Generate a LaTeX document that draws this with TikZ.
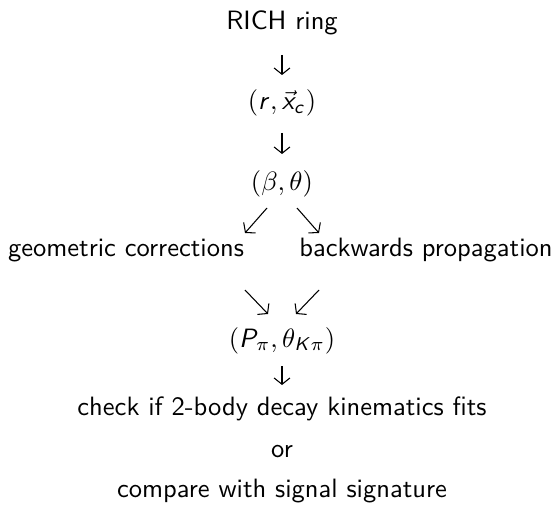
\documentclass[tikz,border=0pt]{standalone}
\usetikzlibrary{arrows.meta,calc}
\DeclareMathAlphabet{\mathsfit}{OT1}{cmss}{m}{sl}
\tikzset{
  lbl/.style={anchor=base, inner sep=0pt, font=\sffamily},
  flow/.style={-{Straight Barb[length=2.4pt, width=6pt]}, line width=0.4pt},
}
\begin{document}
\begin{tikzpicture}[x=0.377pt, y=-0.377pt]
  \useasboundingbox (0,0) rectangle (560,510);
  % quantities, top to bottom
  \node[lbl] (ring) at (282,30) {RICH ring};
  \node[lbl] (rx) at (282,110) {$(\mathsfit{r},\vec{\mathsfit{x}}_{\mathsfit{c}})$};
  \node[lbl] (bt) at (282,190) {$(\beta,\theta)$};
  \node[lbl] (geo) at (126,256) {geometric corrections};
  \node[lbl] (back) at (426,256) {backwards propagation};
  \node[lbl] (pk) at (282,347) {$(\mathsfit{P}_{\pi},\theta_{\mathsfit{K}\pi})$};
  \node[lbl] (check) at (282,415) {check if 2-body decay kinematics fits};
  \node[lbl] (or) at (282,457) {or};
  \node[lbl] (cmp) at (282,497) {compare with signal signature};
  % connectors
  \draw[flow] ($(ring.base)+(0,25)$) -- ($(rx.base)+(0,-35)$);
  \draw[flow] ($(rx.base)+(0,23)$) -- ($(bt.base)+(0,-36)$);
  \draw[flow] ($(bt.base)+(-15,18)$) -- ($(geo.base)+(119,-23)$);
  \draw[flow] ($(bt.base)+(15,18)$) -- ($(back.base)+(-107,-23)$);
  \draw[flow] ($(geo.base)+(119,34)$) -- ($(pk.base)+(-14,-33)$);
  \draw[flow] ($(back.base)+(-107,34)$) -- ($(pk.base)+(14,-33)$);
  \draw[flow] ($(pk.base)+(0,19)$) -- ($(check.base)+(0,-30)$);
\end{tikzpicture}
\end{document}
